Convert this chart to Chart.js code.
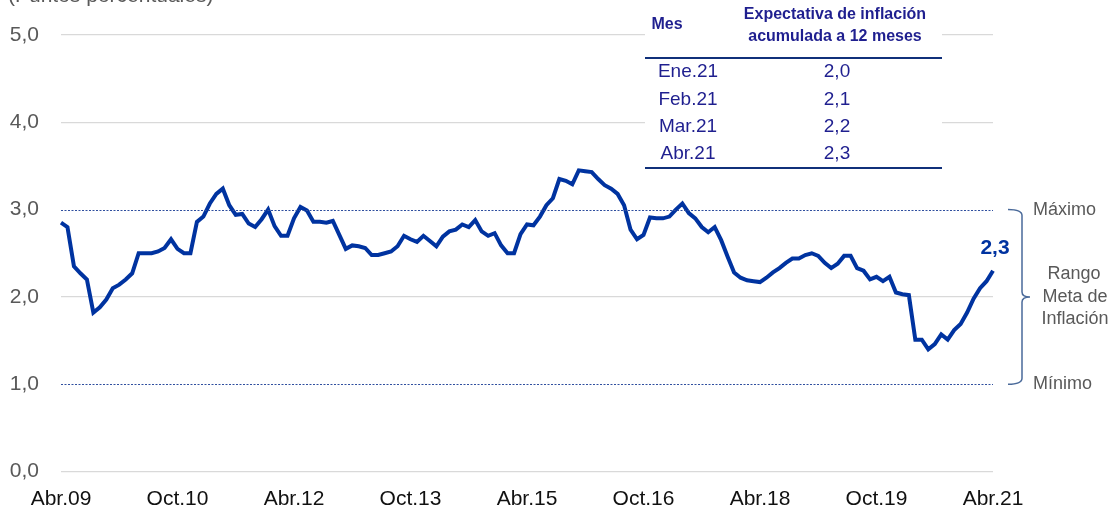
<!DOCTYPE html>
<html>
<head>
<meta charset="utf-8">
<script src="https://cdn.jsdelivr.net/npm/chart.js@4"></script>
<style>
  html, body { margin: 0; padding: 0; background: #fff; }
  #wrap { width: 1110px; height: 507px; position: relative; }
</style>
</head>
<body>
<div id="wrap"><canvas id="expectativa"></canvas></div>
<script>
// Expectativa de inflación a 12 meses, Abr.09 - Abr.21 (mensual)
const mesesCortos = ['Ene', 'Feb', 'Mar', 'Abr', 'May', 'Jun', 'Jul', 'Ago', 'Sep', 'Oct', 'Nov', 'Dic'];
const inicioMes = 3;   // Abr
const inicioAnio = 9;  // 2009

const expectativa = [
  2.85, 2.80, 2.35, 2.27, 2.20, 1.82, 1.88, 1.97, 2.10, 2.14, 2.20, 2.27,
  2.50, 2.50, 2.50, 2.52, 2.56, 2.66, 2.55, 2.50, 2.50, 2.86, 2.92, 3.07,
  3.18, 3.24, 3.05, 2.94, 2.95, 2.84, 2.80, 2.89, 3.00, 2.81, 2.70, 2.70,
  2.90, 3.03, 2.99, 2.86, 2.86, 2.85, 2.87, 2.71, 2.55, 2.59, 2.58, 2.56,
  2.48, 2.48, 2.50, 2.52, 2.58, 2.70, 2.66, 2.63, 2.70, 2.64, 2.58, 2.69,
  2.75, 2.77, 2.83, 2.80, 2.88, 2.75, 2.70, 2.73, 2.59, 2.50, 2.50, 2.72,
  2.83, 2.82, 2.92, 3.05, 3.13, 3.35, 3.33, 3.29, 3.45, 3.44, 3.43, 3.35,
  3.28, 3.24, 3.18, 3.05, 2.77, 2.66, 2.71, 2.91, 2.90, 2.90, 2.92, 3.00,
  3.07, 2.96, 2.90, 2.80, 2.74, 2.80, 2.65, 2.46, 2.28, 2.22, 2.19, 2.18,
  2.17, 2.22, 2.28, 2.33, 2.39, 2.44, 2.44, 2.48, 2.50, 2.47, 2.39, 2.33,
  2.38, 2.47, 2.47, 2.33, 2.30, 2.20, 2.23, 2.18, 2.23, 2.05, 2.03, 2.02,
  1.51, 1.51, 1.40, 1.46, 1.57, 1.51, 1.62, 1.69, 1.82, 1.98, 2.10, 2.18,
  2.30
];

const labels = expectativa.map((v, i) => {
  const m = inicioMes + i;
  const anio = inicioAnio + Math.floor(m / 12);
  return mesesCortos[m % 12] + '.' + String(anio).padStart(2, '0');
});

const tablaMeses = ['Ene.21', 'Feb.21', 'Mar.21', 'Abr.21'];
const tablaValores = ['2,0', '2,1', '2,2', '2,3'];

const rangoMeta = { min: 1, max: 3 };

const FONT = '"Liberation Sans", Arial, sans-serif';
const AZUL = '#0033a0';
const NAVY = '#1f1f8f';
const GRIS = '#595959';

const extras = {
  id: 'extras',
  afterDraw(chart) {
    const ctx = chart.ctx;
    const x = chart.scales.x;
    const y = chart.scales.y;
    const area = chart.chartArea;
    ctx.save();

    // titulo (cortado arriba)
    ctx.fillStyle = GRIS;
    ctx.font = '21px ' + FONT;
    ctx.textAlign = 'left';
    ctx.textBaseline = 'alphabetic';
    ctx.fillText('(Puntos porcentuales)', 8, 2);

    // lineas punteadas del rango meta
    ctx.strokeStyle = '#2f4f9f';
    ctx.lineWidth = 1;
    ctx.setLineDash([2, 1.5]);
    [rangoMeta.min, rangoMeta.max].forEach(v => {
      const py = Math.round(y.getPixelForValue(v)) + 0.5;
      ctx.beginPath();
      ctx.moveTo(area.left, py);
      ctx.lineTo(area.right, py);
      ctx.stroke();
    });
    ctx.setLineDash([]);

    // llave del rango
    const yTop = y.getPixelForValue(rangoMeta.max);
    const yBot = y.getPixelForValue(rangoMeta.min);
    const yMid = (yTop + yBot) / 2;
    const bx = 1022;
    ctx.strokeStyle = '#4a6a9a';
    ctx.lineWidth = 1.5;
    ctx.beginPath();
    ctx.moveTo(1008, yTop);
    ctx.quadraticCurveTo(bx, yTop, bx, yTop + 6);
    ctx.lineTo(bx, yMid - 5);
    ctx.quadraticCurveTo(bx, yMid, bx + 8, yMid);
    ctx.quadraticCurveTo(bx, yMid, bx, yMid + 5);
    ctx.lineTo(bx, yBot - 6);
    ctx.quadraticCurveTo(bx, yBot, 1008, yBot);
    ctx.stroke();

    ctx.fillStyle = GRIS;
    ctx.font = '18px ' + FONT;
    ctx.textBaseline = 'middle';
    ctx.textAlign = 'left';
    ctx.fillText('Máximo', 1033, yTop);
    ctx.fillText('Mínimo', 1033, yBot);
    ctx.textAlign = 'center';
    ctx.fillText('Rango', 1074, yMid - 23);
    ctx.fillText('Meta de', 1075, yMid);
    ctx.fillText('Inflación', 1075, yMid + 22);

    // etiqueta del ultimo dato
    const last = expectativa.length - 1;
    ctx.fillStyle = AZUL;
    ctx.font = 'bold 21px ' + FONT;
    ctx.textAlign = 'center';
    ctx.fillText(tablaValores[tablaValores.length - 1], x.getPixelForValue(last) + 2, y.getPixelForValue(expectativa[last]) - 23);

    // tabla
    const tL = 645, tR = 942;
    ctx.fillStyle = '#fff';
    ctx.fillRect(tL, 0, tR - tL, 170);
    ctx.fillStyle = NAVY;
    ctx.font = 'bold 16px ' + FONT;
    ctx.fillText('Mes', 667, 25);
    ctx.fillText('Expectativa de inflación', 835, 15);
    ctx.fillText('acumulada a 12 meses', 835, 37);
    ctx.strokeStyle = '#10307a';
    ctx.lineWidth = 2;
    ctx.beginPath();
    ctx.moveTo(tL, 58); ctx.lineTo(tR, 58);
    ctx.moveTo(tL, 168); ctx.lineTo(tR, 168);
    ctx.stroke();
    ctx.font = '19px ' + FONT;
    tablaMeses.forEach((m, i) => {
      const ry = 72 + i * 27.3;
      ctx.fillText(m, 688, ry);
      ctx.fillText(tablaValores[i], 837, ry);
    });

    ctx.restore();
  }
};

new Chart(
  document.getElementById('expectativa'),
  {
    type: 'line',
    plugins: [extras],
    data: {
      labels: labels,
      datasets: [
        {
          label: 'Expectativa de inflación',
          data: expectativa,
          borderColor: AZUL,
          borderWidth: 4,
          pointRadius: 0,
          tension: 0,
          fill: false
        }
      ]
    },
    options: {
      animation: false,
      responsive: true,
      maintainAspectRatio: false,
      layout: { padding: { top: 35, right: 117, left: 0, bottom: 0 } },
      plugins: {
        legend: { display: false },
        tooltip: { enabled: false }
      },
      scales: {
        x: {
          grid: { display: false, drawTicks: false },
          border: { display: false },
          afterBuildTicks: scale => {
            scale.ticks = scale.ticks.filter(t => t.value % 18 === 0);
          },
          afterFit: scale => { scale.height = 35.5; },
          ticks: {
            autoSkip: false,
            maxRotation: 0,
            padding: 15,
            color: '#111',
            font: { family: FONT, size: 21 },
            callback: (val) => labels[val]
          }
        },
        y: {
          min: 0,
          max: 5,
          afterFit: scale => { scale.width = 61; },
          border: { display: false },
          grid: {
            drawTicks: false,
            lineWidth: 1.2,
            color: c => (c.tick && (c.tick.value === rangoMeta.min || c.tick.value === rangoMeta.max)) ? 'rgba(0,0,0,0)' : '#d9d9d9'
          },
          ticks: {
            stepSize: 1,
            padding: 22,
            color: GRIS,
            font: { family: FONT, size: 21 },
            callback: v => v.toFixed(1).replace('.', ',')
          }
        }
      }
    }
  }
);
</script>
</body>
</html>
